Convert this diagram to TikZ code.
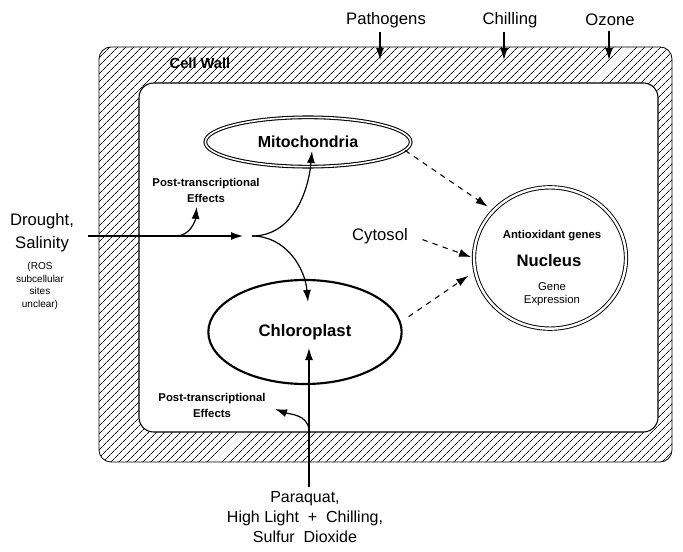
\documentclass[tikz,border=0pt]{standalone}
\usepackage{fontspec}
\setmainfont{Liberation Sans}
\usepackage{tikz}
\usetikzlibrary{arrows.meta}
\usetikzlibrary{shapes.geometric,patterns.meta}
\usetikzlibrary{calc}

\begin{document}
\begin{tikzpicture}[x=0.75pt,y=0.75pt,
	organelle/.style={ellipse,draw,line width=1.6pt,font=\bfseries\fontsize{12}{14}\selectfont},
	tip/.style={-{Latex[length=9pt,width=6pt]},line width=0.9pt},
	dasharrow/.style={tip,dash pattern=on 4pt off 4pt,line width=0.8pt},
	bigtext/.style={font=\fontsize{12.5}{17}\selectfont,align=center},
	smalltext/.style={font=\bfseries\fontsize{8.5}{12}\selectfont,align=center}]
	\useasboundingbox (0,0) rectangle (683,551);
	\draw[line width=0.6pt,rounded corners=9pt,pattern={Lines[angle=45,distance=4pt,line width=0.5pt]}] (99,89) rectangle (672,504);
	\draw[line width=0.8pt,rounded corners=11pt,fill=white] (139,119) rectangle (658,468);
	\node[font=\bfseries\fontsize{11}{13}\selectfont] (wall) at (200,488) {Cell Wall};
	
	\node[organelle,double,line width=0.8pt,double distance=1.2pt,minimum width=154pt,minimum height=37pt] (mito) at (308,409) {Mitochondria};
	\node[organelle,minimum width=145pt,minimum height=78pt,font=\bfseries\fontsize{12.5}{15}\selectfont] (chloro) at (305,219) {Chloroplast};
	\node[ellipse,draw,double,line width=0.7pt,double distance=1.8pt,minimum width=114pt,minimum height=106pt] (nucleus) at (550,293) {};
	\node[smalltext] (genes) at (552,315) {Antioxidant genes};
	\node[font=\bfseries\fontsize{12.5}{15}\selectfont] (nuctext) at (549,290) {Nucleus};
	\node[font=\fontsize{8.5}{10}\selectfont,align=center] (expr) at (552,257) {Gene\\Expression};
	\node[bigtext] (cytosol) at (380,315) {Cytosol};
	
	\node[bigtext] (drought) at (42,318) {Drought,\\Salinity};
	\node[font=\fontsize{7.5}{9.5}\selectfont,align=center] (rosnote) at (40,265) {(ROS\\subcellular\\sites\\unclear)};
	\node[smalltext] (posttop) at (206,361) {Post-transcriptional\\Effects};
	\node[smalltext] (postlow) at (212,146) {Post-transcriptional\\Effects};
	
	\node[bigtext] (pathogens) at (386,531) {Pathogens};
	\node[bigtext] (chilling) at (510,531) {Chilling};
	\node[bigtext] (ozone) at (610,531) {Ozone};
	\node[font=\fontsize{12}{15}\selectfont,align=center] (treat) at (305,34) {Paraquat,\\High Light \ + \ Chilling,\\Sulfur \ Dioxide};
	
	\coordinate (pathtip) at (380,491);
	\coordinate (chilltip) at (504,491);
	\coordinate (ozonetip) at (609,491);
	\coordinate (src) at (88,315);
	\coordinate (branch) at (176,315);
	\coordinate (split) at (243,315);
	\coordinate (fork) at (252,315);
	\coordinate (mitotip) at (312,400);
	\coordinate (chlotip) at (308,249);
	\coordinate (uptip) at (309,203);
	\coordinate (lowbranch) at (309,121);
	\coordinate (lowtip) at (275,142);
	
	\draw[tip] (pathogens.south -| pathtip) -- (pathtip);
	\draw[tip] (chilling.south -| chilltip) -- (chilltip);
	\draw[tip] (ozone.south -| ozonetip) -- (ozonetip);
	\draw[tip] (src) -- (split);
	\draw[tip] (branch) to[out=0,in=-95] ([xshift=-7pt]posttop.south);
	\draw[tip] (fork) to[out=0,in=-95] (mitotip);
	\draw[tip] (fork) to[out=0,in=95] (chlotip);
	\draw[tip] (treat.north -| uptip) -- (uptip);
	\draw[tip] (lowbranch) to[out=95,in=-20] (lowtip);
	\draw[dasharrow,shorten >=5pt] (mito.-5) -- (nucleus.140);
	\draw[dasharrow,shorten <=8pt,shorten >=2pt] (cytosol.east) -- (nucleus.west);
	\draw[dasharrow,shorten <=7pt,shorten >=6pt] (chloro.6) -- (nucleus.190);
\end{tikzpicture}
\end{document}
